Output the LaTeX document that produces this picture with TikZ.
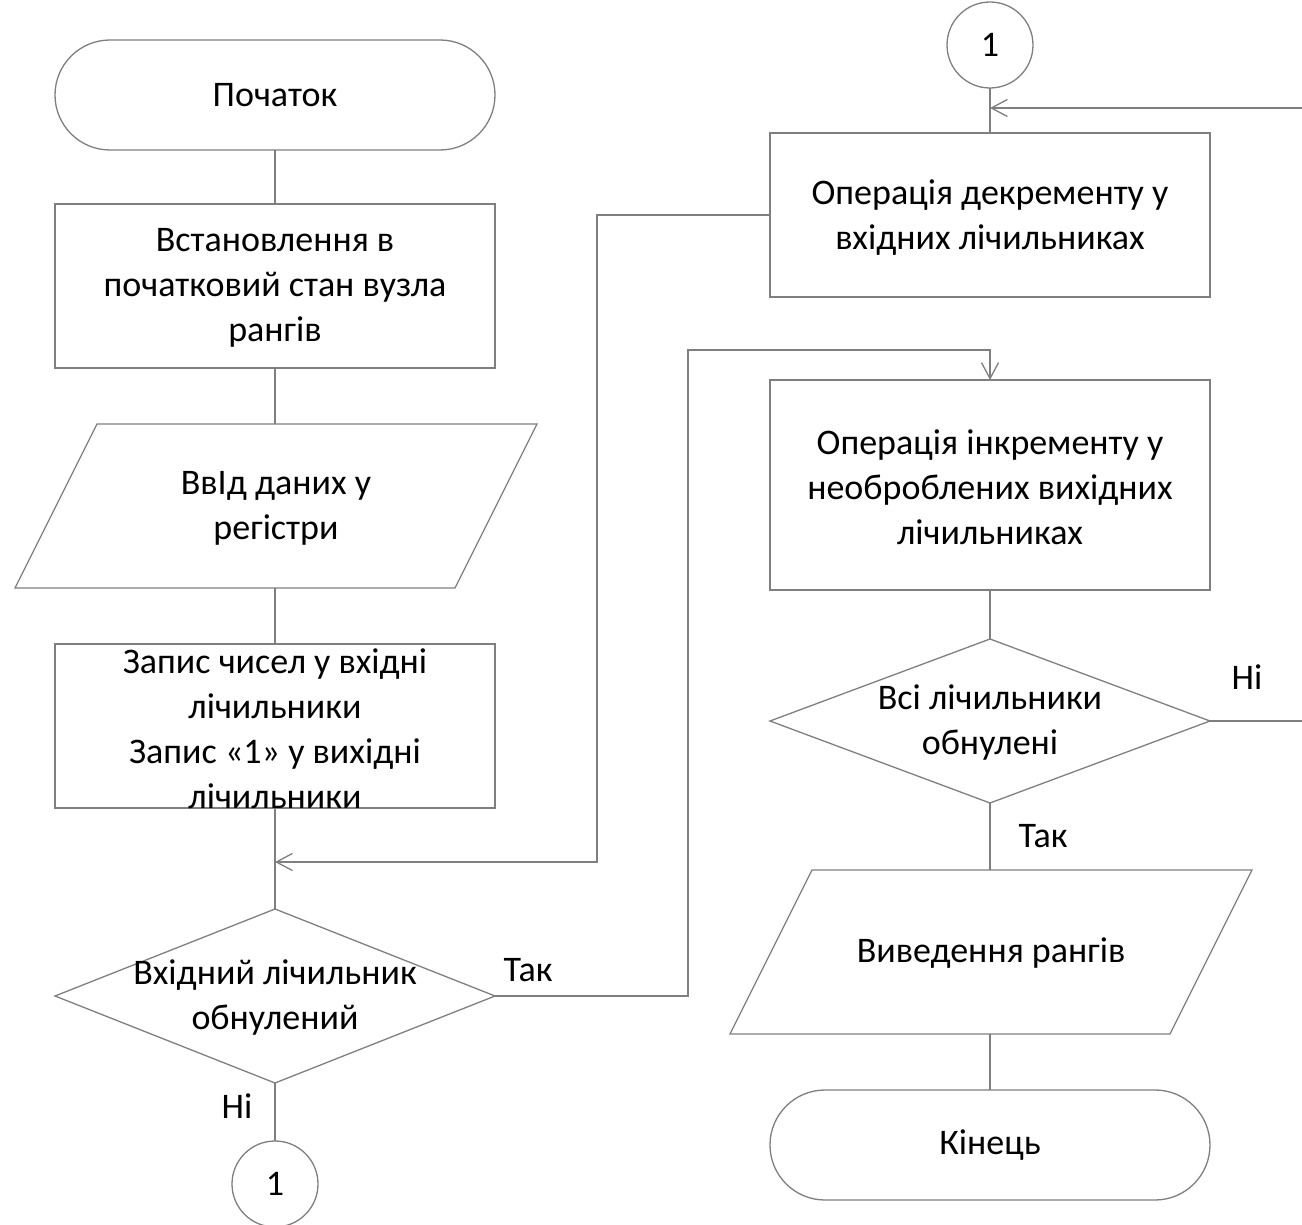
\documentclass[tikz,border=0pt]{standalone}
\usepackage{fontspec}
\setmainfont{Carlito}
\usetikzlibrary{shapes.geometric,arrows.meta}
\definecolor{lc}{HTML}{7F7F7F}
\begin{document}
\begin{tikzpicture}[x=1pt,y=-1pt,
  every node/.style={font=\fontsize{36}{45}\selectfont, inner sep=0pt, outer sep=0pt},
  ln/.style={draw=lc, line width=1.3pt},
  arr/.style={ln, -{Straight Barb[length=16pt,width=17pt,line width=1.3pt]}},
  boxs/.style={ln, rectangle, minimum width=440pt, minimum height=164pt},
  term/.style={ln, rectangle, rounded corners=55pt, minimum width=440pt, minimum height=110pt},
  para/.style={rectangle, minimum width=440pt, minimum height=164pt},
  dec/.style={ln, diamond, minimum width=440pt, minimum height=174pt},
  conn/.style={ln, circle, minimum size=86pt},
  txt/.style={align=center, text=black},
  lbl/.style={text=black}]
\useasboundingbox (0,0) rectangle (1302,1225);

% left column
\node[term] (start) at (275,95) {};
\node[txt] (startt) at (start) {Початок};
\node[boxs] (b1) at (275,286) {};
\node[txt] (b1t) at (275,288) {Встановлення в\\початковий стан вузла\\рангів};
\node[para] (p1) at (275,506) {};
\draw[ln] ([xshift=42pt]p1.north west) -- ([xshift=42pt]p1.north east) -- ([xshift=-40pt]p1.south east) -- ([xshift=-40pt]p1.south west) -- cycle;
\node[txt] (p1t) at (276,508) {ВвIд даних у\\регістри};
\node[boxs] (b2) at (275,726) {};
\node[txt] (b2t) at (275,729) {Запис чисел у вхідні\\лічильники\\Запис «1» у вихідні\\лічильники};
\node[dec] (d1) at (275,996) {};
\node[txt] (d1t) at (275,998) {Вхідний лічильник\\обнулений};
\node[conn] (c1) at (275,1184) {};
\node[txt] (c1t) at (c1) {1};
\coordinate (m1) at (275,862);

% right column
\node[conn] (c2) at (990,45) {};
\node[txt] (c2t) at (c2) {1};
\coordinate (m2) at (990,108);
\coordinate (r1) at (1302,108);
\node[boxs] (b3) at (990,215) {};
\node[txt] (b3t) at (990,218) {Операція декременту у\\вхідних лічильниках};
\node[boxs, minimum height=210pt] (b4) at (990,485) {};
\node[txt] (b4t) at (990,487) {Операція інкременту у\\необроблених вихідних\\лічильниках};
\node[dec, minimum height=164pt] (d2) at (990,721) {};
\node[txt] (d2t) at (990,723) {Всі лічильники\\обнулені};
\coordinate (r2) at (1302,721);
\node[para] (p2) at (990,952) {};
\draw[ln] ([xshift=42pt]p2.north west) -- ([xshift=42pt]p2.north east) -- ([xshift=-40pt]p2.south east) -- ([xshift=-40pt]p2.south west) -- cycle;
\node[txt] (p2t) at (991,953) {Виведення рангів};
\node[term] (end) at (990,1145) {};
\node[txt] (endt) at (end) {Кінець};

% connectors
\draw[ln] (start.south) -- (b1.north);
\draw[ln] (b1.south) -- (p1.north);
\draw[ln] (p1.south) -- (b2.north);
\draw[ln] (b2.south) -- (d1.north);
\draw[ln] (d1.south) -- (c1.north);
\draw[arr] (b3.west) -- ++(-173,0) |- (m1);
\draw[arr] (d1.east) -- ++(193,0) |- ([yshift=30pt]b4.north) -- (b4.north);
\draw[ln] (c2.south) -- (b3.north);
\draw[arr] (r1) -- (m2);
\draw[ln] (b4.south) -- (d2.north);
\draw[ln] (d2.east) -- (r2);
\draw[ln] (d2.south) -- (p2.north);
\draw[ln] (p2.south) -- (end.north);

% labels
\node[lbl] (l1) at (528,970) {Так};
\node[lbl] (l2) at (237,1106) {Ні};
\node[lbl] (l3) at (1247,677) {Ні};
\node[lbl] (l4) at (1043,836) {Так};
\end{tikzpicture}
\end{document}
